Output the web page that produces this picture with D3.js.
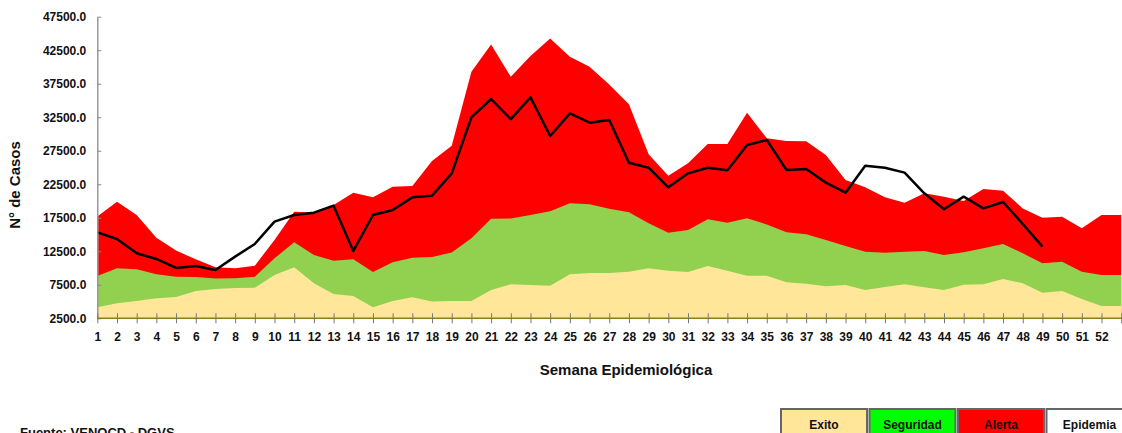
<!DOCTYPE html>
<meta charset="utf-8">
<style>
body { margin: 0; background: #fff; }
svg { display: block; }
text { font-family: "Liberation Sans", Arial, sans-serif; font-weight: bold; fill: #111; }
.axis-y path.domain { stroke: #999; stroke-width: 1.5px; }
.axis-y line { stroke: #888; }
.axis-x path.domain { stroke: #8a7f1c; stroke-width: 1.5px; }
.axis-x line { stroke: #777; }
.axis text { font-size: 12px; }
.legend rect { stroke: #666; stroke-width: 2px; }
</style>
<svg width="1122" height="433"></svg>
<script src="https://d3js.org/d3.v7.min.js"></script>
<script>

// semanas 1..53 (la 53 sin etiqueta)
const weeks = d3.range(1, 54);
const weekLabels = weeks.map(w => w <= 52 ? String(w) : '');

// limites superiores de cada zona del canal endemico
const exito = [4140, 4740, 5090, 5480, 5680, 6580, 6880, 7020, 7070, 8960,
  10110, 7720, 6130, 5830, 4140, 5090, 5630, 4990, 5090, 5090,
  6730, 7570, 7470, 7370, 9060, 9260, 9260, 9460, 9960, 9610,
  9410, 10310, 9610, 8860, 8860, 7870, 7670, 7270, 7470, 6730,
  7170, 7570, 7120, 6730, 7520, 7570, 8370, 7720, 6330, 6580,
  5380, 4340, 4340];

const seguridad = [8810, 9960, 9810, 9060, 8715, 8670, 8420, 8470, 8715, 11450,
  13840, 11950, 11100, 11300, 9410, 10850, 11550, 11650, 12300, 14430,
  17370, 17400, 17910, 18460, 19650, 19500, 18860, 18310, 16670, 15280,
  15680, 17270, 16770, 17420, 16500, 15330, 15030, 14180, 13290, 12440,
  12290, 12440, 12540, 11950, 12340, 12940, 13590, 12200, 10700, 10950,
  9460, 8960, 8960];

const alerta = [17700, 19900, 17900, 14500, 12600, 11300, 10100, 9960, 10350, 14200,
  18400, 18300, 19400, 21250, 20550, 22140, 22240, 25970, 28250, 39290,
  43370, 38550, 41630, 44265, 41530, 40040, 37400, 34420, 26960, 23780,
  25620, 28500, 28500, 33180, 29350, 28950, 28900, 26860, 23130, 22040,
  20550, 19750, 21150, 20650, 20000, 21790, 21540, 18900, 17520, 17670,
  15920, 17910, 17910];

// casos observados (hasta la semana 49)
const casos = [15330, 14330, 12200, 11350, 10010, 10310, 9710, 11700, 13590, 16920,
  17910, 18260, 19310, 12540, 17910, 18660, 20550, 20800, 24130, 32480,
  35220, 32230, 35460, 29700, 33080, 31690, 32080, 25720, 24970, 22040,
  24130, 24970, 24580, 28350, 29100, 24630, 24780, 22740, 21240, 25270,
  24970, 24230, 21150, 18760, 20650, 18900, 19850, 16570, 13190];

const yTicks = d3.range(2500, 47501, 5000);

const legendItems = [
  { name: 'Exito', color: '#ffe699' },
  { name: 'Seguridad', color: '#00ff00' },
  { name: 'Alerta', color: '#ff0000' },
  { name: 'Epidemia', color: '#ffffff' }
];

const svg = d3.select('svg');

const x = d3.scaleLinear().domain([1, 53]).range([97.3, 1121.2]);
const y = d3.scaleLinear().domain([2500, 47500]).range([318.3, 16.7]);

function band(values, color) {
  const area = d3.area()
    .x((d, i) => x(weeks[i]))
    .y0(y(2500))
    .y1(d => y(d));
  svg.append('path')
    .datum(values)
    .attr('d', area)
    .attr('fill', color);
}

band(alerta, '#ff0000');
band(seguridad, '#92d050');
band(exito, '#ffe699');

const line = d3.line()
  .x((d, i) => x(weeks[i]))
  .y(d => y(d));

svg.append('path')
  .datum(casos)
  .attr('d', line)
  .attr('fill', 'none')
  .attr('stroke', '#000')
  .attr('stroke-width', 2.5)
  .attr('stroke-linejoin', 'round');

// eje y
const yAxis = svg.append('g')
  .attr('class', 'axis axis-y')
  .attr('transform', `translate(${x(1)},0)`)
  .call(d3.axisLeft(y)
    .tickValues(yTicks)
    .tickFormat(d3.format('.1f'))
    .tickSizeInner(-4)
    .tickSizeOuter(0)
    .tickPadding(11));

// eje x
const xAxis = svg.append('g')
  .attr('class', 'axis axis-x')
  .attr('transform', `translate(0,${y(2500)})`)
  .call(d3.axisBottom(x)
    .tickValues(weeks)
    .tickFormat((d, i) => weekLabels[i])
    .tickSizeOuter(0)
    .tickPadding(8));

xAxis.select('.domain').attr('d', `M${x(1)},0H1122`);
xAxis.selectAll('.tick line').attr('y1', -5).attr('y2', 5);

svg.append('text')
  .attr('transform', 'translate(20,185) rotate(-90)')
  .attr('text-anchor', 'middle')
  .style('font-size', '15px')
  .text('N° de Casos');

svg.append('text')
  .attr('x', 626)
  .attr('y', 375)
  .attr('text-anchor', 'middle')
  .style('font-size', '15px')
  .text('Semana Epidemiológica');

svg.append('text')
  .attr('x', 20)
  .attr('y', 437)
  .style('font-size', '13px')
  .text('Fuente: VENOCD - DGVS');

// leyenda
const legend = svg.append('g').attr('class', 'legend');
const lg = legend.selectAll('g')
  .data(legendItems)
  .enter().append('g')
  .attr('transform', (d, i) => `translate(${781 + i * 88.5},409)`);

lg.append('rect')
  .attr('width', 86)
  .attr('height', 34)
  .attr('fill', d => d.color);

lg.append('text')
  .attr('x', 43)
  .attr('y', 20)
  .attr('text-anchor', 'middle')
  .style('font-size', '12px')
  .text(d => d.name);

</script>
